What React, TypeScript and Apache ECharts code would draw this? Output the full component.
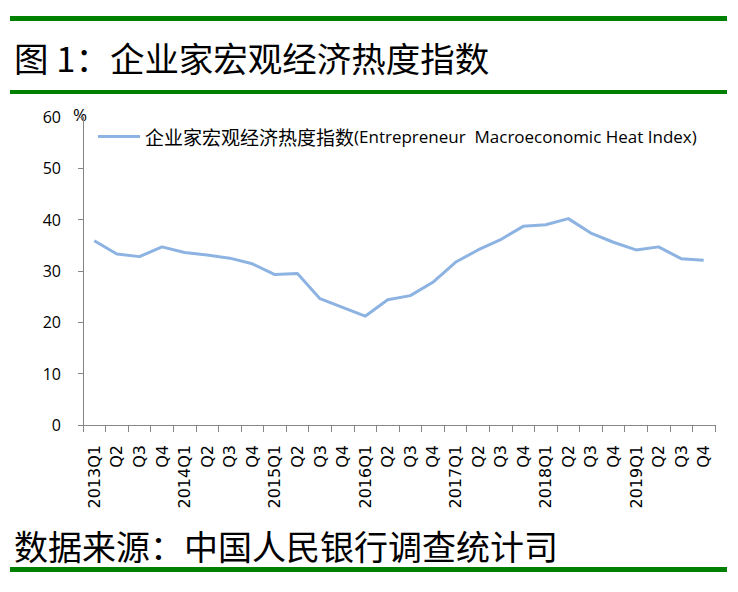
import React, { useEffect, useRef } from "react";
import * as echarts from "echarts";

const categories = [
  "2013Q1", "Q2", "Q3", "Q4",
  "2014Q1", "Q2", "Q3", "Q4",
  "2015Q1", "Q2", "Q3", "Q4",
  "2016Q1", "Q2", "Q3", "Q4",
  "2017Q1", "Q2", "Q3", "Q4",
  "2018Q1", "Q2", "Q3", "Q4",
  "2019Q1", "Q2", "Q3", "Q4",
];

const heatIndex = [
  35.9, 33.3, 32.8, 34.7,
  33.6, 33.1, 32.5, 31.4,
  29.3, 29.5, 24.6, 22.9,
  21.2, 24.4, 25.2, 27.8,
  31.7, 34.1, 36.1, 38.7,
  39.0, 40.2, 37.4, 35.6,
  34.1, 34.7, 32.4, 32.1,
];

const seriesName = "企业家宏观经济热度指数(Entrepreneur  Macroeconomic Heat Index)";
const legendCn = "企业家宏观经济热度指数";
const legendEn = "(Entrepreneur  Macroeconomic Heat Index)";
const titleText = "图 1：企业家宏观经济热度指数";
const sourceText = "数据来源：中国人民银行调查统计司";
const unitText = "%";

export default function App() {
  const ref = useRef<HTMLDivElement>(null);

  useEffect(() => {
    document.body.style.margin = "0";
    if (!ref.current) return;
    const chart = echarts.init(ref.current, null, { renderer: "svg" });
    const green = "#008000";
    const axisGrey = "#868686";
    const option: any = {
      animation: false,
      backgroundColor: "#ffffff",
      grid: { left: 83, right: 23, top: 117, bottom: 167, containLabel: false },
      legend: {
        show: true,
        left: 98,
        top: 127,
        padding: 0,
        icon: "rect",
        itemWidth: 42,
        itemHeight: 3,
        itemGap: 10,
        data: [seriesName],
        formatter: () => `{cn|${legendCn}}{en|${legendEn}}`,
        textStyle: {
          rich: {
            cn: { fontFamily: "Noto Sans CJK SC", fontSize: 19, color: "#000", lineHeight: 22 },
            en: { fontFamily: "Open Sans", fontSize: 17, color: "#000", lineHeight: 22 },
          },
        },
      },
      xAxis: {
        type: "category",
        data: categories,
        boundaryGap: true,
        axisLine: { show: true, lineStyle: { color: axisGrey, width: 1 } },
        axisTick: { show: true, length: 7, alignWithLabel: false, lineStyle: { color: axisGrey } },
        axisLabel: {
          interval: 0,
          rotate: 90,
          margin: 20,
          fontFamily: "DejaVu Sans",
          fontSize: 16,
          color: "#000",
        },
        splitLine: { show: false },
      },
      yAxis: {
        type: "value",
        min: 0,
        max: 60,
        interval: 10,
        axisLine: { show: true, lineStyle: { color: axisGrey, width: 1 } },
        axisTick: { show: true, length: 5, lineStyle: { color: axisGrey } },
        axisLabel: {
          margin: 22,
          fontFamily: "Open Sans",
          fontSize: 16,
          color: "#000",
        },
        splitLine: { show: false },
      },
      series: [
        {
          name: seriesName,
          type: "line",
          data: heatIndex,
          showSymbol: false,
          symbol: "none",
          smooth: false,
          color: "#8db3e2",
          lineStyle: { color: "#8db3e2", width: 3 },
          itemStyle: { color: "#8db3e2" },
        },
      ],
      graphic: [
        { type: "rect", shape: { x: 10, y: 16, width: 717, height: 5 }, style: { fill: green } },
        { type: "rect", shape: { x: 10, y: 90, width: 717, height: 4 }, style: { fill: green } },
        { type: "rect", shape: { x: 10, y: 567, width: 717, height: 5 }, style: { fill: green } },
        {
          type: "text",
          x: 14,
          y: 57,
          style: {
            text: titleText,
            fontFamily: "Noto Sans CJK SC",
            fontSize: 34.5,
            fontWeight: "normal",
            fill: "#000",
            verticalAlign: "middle",
            align: "left",
          },
        },
        {
          type: "text",
          x: 14,
          y: 545,
          style: {
            text: sourceText,
            fontFamily: "Noto Sans CJK SC",
            fontSize: 34,
            fill: "#000",
            verticalAlign: "middle",
            align: "left",
          },
        },
        {
          type: "text",
          x: 73,
          y: 114,
          style: {
            text: unitText,
            fontFamily: "Open Sans",
            fontSize: 17,
            fill: "#000",
            verticalAlign: "middle",
            align: "left",
          },
        },
      ],
    };
    chart.setOption(option);
    return () => chart.dispose();
  }, []);

  return <div ref={ref} style={{ width: 738, height: 592 }} />;
}
